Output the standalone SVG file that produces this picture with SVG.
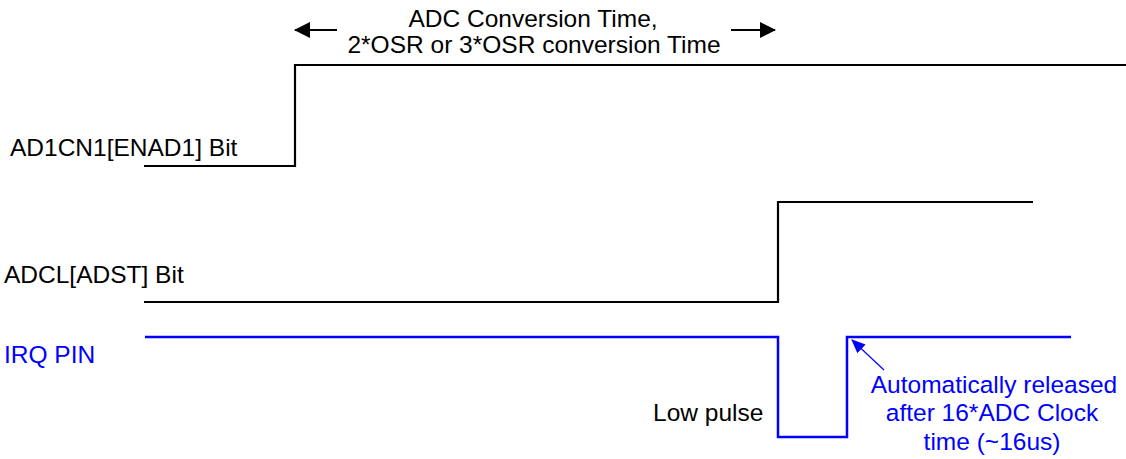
<svg xmlns="http://www.w3.org/2000/svg" width="1126" height="459" viewBox="0 0 1126 459">
<defs>
<style>
text{font-family:"Liberation Sans",Arial,sans-serif;font-size:24.5px}
.blk{fill:#000}
.blu{fill:#0000ff}
.sig{fill:none;stroke:#000;stroke-width:2.2}
.irq{fill:none;stroke:#0000ff;stroke-width:2.5}
</style>
<marker id="ah" viewBox="0 0 16 16" refX="15" refY="8" markerWidth="16" markerHeight="16" markerUnits="userSpaceOnUse" orient="auto"><path d="M0,0 L16,8 L0,16 Z" fill="#000"/></marker>
<marker id="ahb" viewBox="0 0 14 12" refX="13" refY="6" markerWidth="14" markerHeight="12" markerUnits="userSpaceOnUse" orient="auto"><path d="M0,0 L14,6 L0,12 Z" fill="#0000ff"/></marker>
</defs>
<rect width="1126" height="459" fill="#fff"/>
<g id="enad1">
<text x="10" y="156" class="blk">AD1CN1[ENAD1] Bit</text>
</g>
<g id="adst">
<text x="4" y="283" class="blk">ADCL[ADST] Bit</text>
</g>
<g id="irq">
<text x="4" y="363" class="blu">IRQ PIN</text>
</g>
<g id="conv-label">
<text x="533" y="27" text-anchor="middle" class="blk">ADC Conversion Time,</text>
<text x="534" y="53" text-anchor="middle" class="blk">2*OSR or 3*OSR conversion Time</text>
</g>
<g id="low-pulse">
<text x="653" y="421" class="blk">Low pulse</text>
</g>
<g id="release-note">
<text x="994" y="393" text-anchor="middle" class="blu">Automatically released</text>
<text x="992" y="421" text-anchor="middle" class="blu">after 16*ADC Clock</text>
<text x="992" y="450" text-anchor="middle" class="blu">time (~16us)</text>
</g>
<g id="connectors">
<polyline class="sig" points="144,166 295,166 295,65 1126,65"/>
<polyline class="sig" points="144,302 778,302 778,202 1033,202"/>
<polyline class="irq" points="145,337 778,337 778,437 847,437 847,337 1071,337"/>
<line x1="337" y1="30" x2="295" y2="30" stroke="#000" stroke-width="2" marker-end="url(#ah)"/>
<line x1="731" y1="30" x2="775" y2="30" stroke="#000" stroke-width="2" marker-end="url(#ah)"/>
<line x1="884" y1="370" x2="852" y2="340" stroke="#0000ff" stroke-width="1.2" marker-end="url(#ahb)"/>
</g>
</svg>
